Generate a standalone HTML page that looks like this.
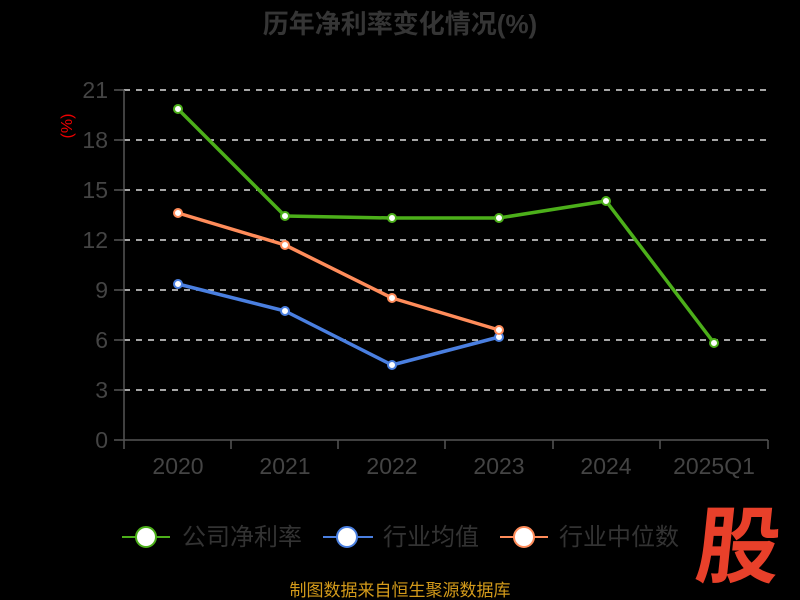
<!DOCTYPE html>
<html><head><meta charset="utf-8"><style>
html,body{margin:0;padding:0;background:#000;width:800px;height:600px;overflow:hidden}
text{font-family:"Liberation Sans","Noto Sans CJK SC",sans-serif}
</style></head><body>
<svg width="800" height="600" viewBox="0 0 800 600" xmlns="http://www.w3.org/2000/svg">
<rect width="800" height="600" fill="#000"/>
<text x="400" y="33" text-anchor="middle" font-size="26" font-weight="bold" fill="#353535">历年净利率变化情况(%)</text>
<text transform="translate(68,126) rotate(-90)" text-anchor="middle" font-size="16" fill="#e00" dominant-baseline="middle">(%)</text>
<g stroke="#ddd" stroke-width="1.5" stroke-dasharray="6,6">
<line x1="124" y1="90" x2="768" y2="90"/><line x1="124" y1="140" x2="768" y2="140"/><line x1="124" y1="190" x2="768" y2="190"/><line x1="124" y1="240" x2="768" y2="240"/><line x1="124" y1="290" x2="768" y2="290"/><line x1="124" y1="340" x2="768" y2="340"/><line x1="124" y1="390" x2="768" y2="390"/>
</g>
<g stroke="#555" stroke-width="1.5">
<line x1="124" y1="90" x2="124" y2="440"/><line x1="114" y1="440" x2="768" y2="440"/>
<line x1="114" y1="90" x2="124" y2="90"/><line x1="114" y1="140" x2="124" y2="140"/><line x1="114" y1="190" x2="124" y2="190"/><line x1="114" y1="240" x2="124" y2="240"/><line x1="114" y1="290" x2="124" y2="290"/><line x1="114" y1="340" x2="124" y2="340"/><line x1="114" y1="390" x2="124" y2="390"/>
<line x1="124" y1="440" x2="124" y2="449"/><line x1="231" y1="440" x2="231" y2="449"/><line x1="338" y1="440" x2="338" y2="449"/><line x1="445" y1="440" x2="445" y2="449"/><line x1="553" y1="440" x2="553" y2="449"/><line x1="660" y1="440" x2="660" y2="449"/><line x1="768" y1="440" x2="768" y2="449"/>
</g>
<g font-size="23" fill="#444" text-anchor="end">
<text x="108" y="98">21</text><text x="108" y="148">18</text><text x="108" y="198">15</text><text x="108" y="248">12</text><text x="108" y="298">9</text><text x="108" y="348">6</text><text x="108" y="398">3</text><text x="108" y="448">0</text>
</g>
<g font-size="23" fill="#444" text-anchor="middle">
<text x="178" y="474">2020</text><text x="285" y="474">2021</text><text x="392" y="474">2022</text><text x="499" y="474">2023</text><text x="606" y="474">2024</text><text x="714" y="474">2025Q1</text>
</g>
<g fill="none" stroke-width="3.5" stroke-linejoin="round">
<polyline stroke="#4caf1a" points="178,109 285,216 392,218 499,218 606,201 714,343"/>
<polyline stroke="#4a7fe0" points="178,284 285,311 392,365 499,337"/>
<polyline stroke="#ff8c5a" points="178,213 285,245 392,298 499,330"/>
</g>
<g fill="#fff" stroke-width="2">
<g stroke="#4caf1a"><circle cx="178" cy="109" r="4"/><circle cx="285" cy="216" r="4"/><circle cx="392" cy="218" r="4"/><circle cx="499" cy="218" r="4"/><circle cx="606" cy="201" r="4"/><circle cx="714" cy="343" r="4"/></g>
<g stroke="#4a7fe0"><circle cx="178" cy="284" r="4"/><circle cx="285" cy="311" r="4"/><circle cx="392" cy="365" r="4"/><circle cx="499" cy="337" r="4"/></g>
<g stroke="#ff8c5a"><circle cx="178" cy="213" r="4"/><circle cx="285" cy="245" r="4"/><circle cx="392" cy="298" r="4"/><circle cx="499" cy="330" r="4"/></g>
</g>
<g stroke-width="2">
<line x1="122" y1="537" x2="170" y2="537" stroke="#4caf1a"/><ellipse cx="146" cy="537" rx="10" ry="10" fill="#fff" stroke="#4caf1a"/>
<line x1="323" y1="537" x2="373" y2="537" stroke="#4a7fe0"/><ellipse cx="347" cy="537" rx="10" ry="10" fill="#fff" stroke="#4a7fe0"/>
<line x1="500" y1="537" x2="548" y2="537" stroke="#ff8c5a"/><ellipse cx="524" cy="537" rx="10" ry="10" fill="#fff" stroke="#ff8c5a"/>
</g>
<g font-size="24" fill="#333">
<text x="182" y="545">公司净利率</text><text x="383" y="545">行业均值</text><text x="559" y="545">行业中位数</text>
</g>
<text x="736" y="576" text-anchor="middle" font-size="84" font-weight="bold" fill="#e8402a" transform="skewX(-6) translate(60,0)">股</text>
<text x="400" y="596" text-anchor="middle" font-size="17" fill="#d39a1a">制图数据来自恒生聚源数据库</text>
</svg>
</body></html>
